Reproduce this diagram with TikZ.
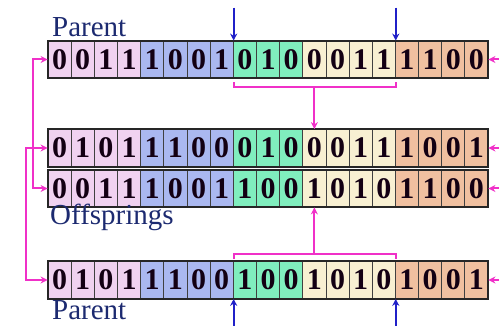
\documentclass[tikz,border=0pt]{standalone}
\usepackage{fontspec}
\setmainfont{Liberation Serif}
\usetikzlibrary{arrows.meta}

\definecolor{genepink}{HTML}{F0D2F0}
\definecolor{geneblue}{HTML}{AAB8F0}
\definecolor{genegreen}{HTML}{80EEBE}
\definecolor{genecream}{HTML}{F8F0D2}
\definecolor{geneorange}{HTML}{F0C0A0}
\definecolor{linkpink}{HTML}{F030C8}
\definecolor{cutblue}{HTML}{2020C8}
\definecolor{labelnavy}{HTML}{1C2A70}

\tikzset{
  gene/.style={draw=black!75, line width=0.8pt, minimum width=23.16pt,
    minimum height=37pt, inner sep=0pt,
    font=\fontsize{30}{30}\selectfont\bfseries, text=black!85!violet},
  chromo/.style={draw=black!85, line width=2pt},
  caption/.style={font=\fontsize{29}{32}\selectfont, text=labelnavy,
    anchor=base west, inner sep=0pt},
  link/.style={linkpink, line width=2pt, >={Stealth[length=7pt,width=7pt]}},
  cut/.style={cutblue, line width=2pt, -{Stealth[length=7pt,width=7pt]}},
}

% one chromosome: name, y of its centre, the 19 bits
\newcommand{\chromosome}[3]{
  \foreach \b [count=\i] in {#3} {
    \ifnum\i<5 \def\col{genepink}\else
    \ifnum\i<9 \def\col{geneblue}\else
    \ifnum\i<12 \def\col{genegreen}\else
    \ifnum\i<16 \def\col{genecream}\else
    \def\col{geneorange}\fi\fi\fi\fi
    \node[gene, fill=\col] (#1c\i) at ({48+23.16*(\i-0.5)}, #2) {\b};
  }
  \draw[chromo] (#1c1.north west) rectangle (#1c19.south east);
}

\begin{document}
\begin{tikzpicture}[x=1pt, y=-1pt]
  \useasboundingbox (0,0) rectangle (499,326);

  % Parents and offsprings
  \chromosome{r1}{59.5}{0,0,1,1,1,0,0,1,0,1,0,0,0,1,1,1,1,0,0}
  \chromosome{r2}{148}{0,1,0,1,1,1,0,0,0,1,0,0,0,1,1,1,0,0,1}
  \chromosome{r3}{188.5}{0,0,1,1,1,0,0,1,1,0,0,1,0,1,0,1,1,0,0}
  \chromosome{r4}{280}{0,1,0,1,1,1,0,0,1,0,0,1,0,1,0,1,0,0,1}

  \node[caption] (parenttop) at (52,37) {Parent};
  \node[caption] (offsprings) at (50,225) {Offsprings};
  \node[caption] (parentbot) at (52,320) {Parent};

  % Crossover points
  \draw[cut] ([yshift=33pt]r1c8.north east) -- (r1c8.north east);
  \draw[cut] ([yshift=33pt]r1c15.north east) -- (r1c15.north east);
  \draw[cut] ([yshift=-28pt]r4c8.south east) -- (r4c8.south east);
  \draw[cut] ([yshift=-28pt]r4c15.south east) -- (r4c15.south east);

  % Middle parts swapped
  \draw[link] ([yshift=-4pt]r1c8.south east) -- ([yshift=-9pt]r1c8.south east)
    -- ([yshift=-9pt]r1c15.south east) -- ([yshift=-4pt]r1c15.south east);
  \draw[link, ->] ([yshift=-9pt]r1c12.south) -- (r2c12.north);
  \draw[link] ([yshift=2pt]r4c8.north east) -- ([yshift=7pt]r4c8.north east)
    -- ([yshift=7pt]r4c15.north east) -- ([yshift=2pt]r4c15.north east);
  \draw[link, ->] ([yshift=7pt]r4c12.north) -- (r3c12.south);

  % Head parts
  \draw[link, <->] (r1c1.west) -| ([xshift=-15pt]r3c1.west) -- (r3c1.west);
  \draw[link, <->] (r2c1.west) -| ([xshift=-22pt]r4c1.west) -- (r4c1.west);

  % Tail parts
  \draw[link, ->] ([xshift=11pt]r1c19.east) -- (r1c19.east);
  \draw[link, ->] ([xshift=11pt]r2c19.east) -- (r2c19.east);
  \draw[link, ->] ([xshift=11pt]r3c19.east) -- (r3c19.east);
  \draw[link, ->] ([xshift=11pt]r4c19.east) -- (r4c19.east);
\end{tikzpicture}
\end{document}
